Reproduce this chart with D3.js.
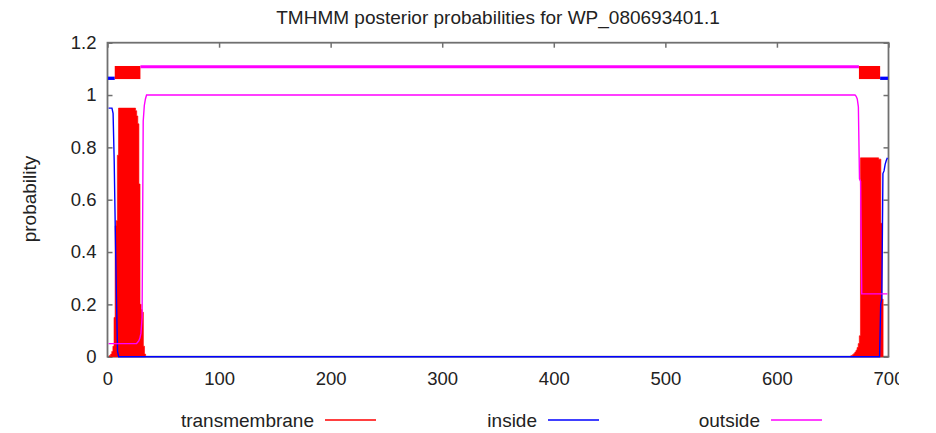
<!DOCTYPE html>
<html><head><meta charset="utf-8">
<script src="https://cdn.jsdelivr.net/npm/d3@7/dist/d3.min.js"></script>
<style>
body{margin:0;background:#fff}
text{font-family:"Liberation Sans",Arial,Helvetica,sans-serif;fill:#222}
</style>
</head><body>
<svg id="chart" width="936" height="433"></svg>
<script>
// ---------- data ----------
const chartTitle = "TMHMM posterior probabilities for WP_080693401.1";
const yAxisTitle = "probability";
const xTicks = [0, 100, 200, 300, 400, 500, 600, 700];
const xTickLabels = ["0", "100", "200", "300", "400", "500", "600", "700"];
const yTicks = [0, 0.2, 0.4, 0.6, 0.8, 1, 1.2];
const yTickLabels = ["0", "0.2", "0.4", "0.6", "0.8", "1", "1.2"];
const seriesNames = ["transmembrane", "inside", "outside"];

// transmembrane posterior probability (residues with non-zero value)
const tmResidues = [3,4,5,6,7,8,9,10,11,12,13,14,15,16,17,18,19,20,21,22,23,24,25,26,27,28,29,30,31,32,33,
  667,668,669,670,671,672,673,674,675,676,677,678,679,680,681,682,683,684,685,686,687,688,689,690,691,692,693,694];
const tmValues = [0.005,0.01,0.02,0.04,0.15,0.5,0.52,0.77,0.95,0.95,0.95,0.95,0.95,0.95,0.95,0.95,0.95,0.95,0.95,0.95,0.95,0.95,0.94,0.92,0.89,0.66,0.2,0.18,0.17,0.04,0.01,
  0.003,0.005,0.008,0.012,0.018,0.025,0.035,0.05,0.08,0.76,0.76,0.76,0.76,0.76,0.76,0.76,0.76,0.76,0.76,0.76,0.76,0.76,0.76,0.76,0.755,0.755,0.51,0.22];

// inside posterior probability (break points of the line)
const insideResidues = [1,4,5,6,7,8,9,10,692,693,694,695,696,697,698,699];
const insideValues   = [0.95,0.95,0.93,0.75,0.48,0.23,0.02,0,0,0.2,0.22,0.7,0.71,0.735,0.75,0.76];

// outside posterior probability (break points of the line)
const outsideResidues = [1,26,27,28,29,30,31,32,33,34,35,670,671,672,673,674,675,676,699];
const outsideValues   = [0.05,0.05,0.055,0.06,0.07,0.09,0.15,0.9,0.96,0.985,1.0,1.0,0.995,0.985,0.955,0.68,0.67,0.24,0.24];

// predicted topology
const topoType  = ["inside", "TMhelix", "outside", "TMhelix", "inside"];
const topoStart = [1, 7, 30, 674, 693];
const topoEnd   = [6, 29, 673, 692, 699];

// ---------- drawing ----------
const svg = d3.select("#chart");
const colors = {transmembrane: "#ff0000", inside: "#0000ff", outside: "#ff00ff"};
const plot = {left: 107.5, right: 888.5, top: 42.7, bottom: 356.7};

const x = d3.scaleLinear().domain([0, 700]).range([plot.left, plot.right]);
const y = d3.scaleLinear().domain([0, 1.2]).range([plot.bottom, plot.top]);

svg.append("defs").append("clipPath").attr("id", "labelClip")
  .append("rect").attr("x", 0).attr("y", 0).attr("width", 899).attr("height", 433);

// title
svg.append("text").attr("x", (plot.left + plot.right) / 2).attr("y", 24)
  .attr("text-anchor", "middle").style("font-size", "19px").text(chartTitle);

// y axis title
svg.append("text").attr("transform", "translate(36,199) rotate(-90)")
  .attr("text-anchor", "middle").style("font-size", "19px").text(yAxisTitle);

// axes with inward ticks
const axisColor = "#707070";
function styleAxis(g, showText) {
  g.select(".domain").remove();
  g.selectAll(".tick line").attr("stroke", axisColor).attr("stroke-width", 1.5);
  g.selectAll(".tick text").style("font-size", "18.5px").attr("fill", "#222");
  if (!showText) g.selectAll(".tick text").remove();
}
const gx = svg.append("g").attr("transform", `translate(0,${plot.bottom})`)
  .call(d3.axisBottom(x).tickValues(xTicks).tickFormat((d, i) => xTickLabels[i]).tickSize(-5).tickPadding(15));
styleAxis(gx, true);
gx.attr("clip-path", "url(#labelClip)");
const gy = svg.append("g").attr("transform", `translate(${plot.left},0)`)
  .call(d3.axisLeft(y).tickValues(yTicks).tickFormat((d, i) => yTickLabels[i]).tickSize(-5).tickPadding(11));
styleAxis(gy, true);
const gt = svg.append("g").attr("transform", `translate(0,${plot.top})`)
  .call(d3.axisTop(x).tickValues(xTicks).tickSize(-5));
styleAxis(gt, false);
const gr = svg.append("g").attr("transform", `translate(${plot.right},0)`)
  .call(d3.axisRight(y).tickValues(yTicks).tickSize(-5));
styleAxis(gr, false);

// border
svg.append("rect").attr("x", plot.left).attr("y", plot.top)
  .attr("width", plot.right - plot.left).attr("height", plot.bottom - plot.top)
  .attr("fill", "none").attr("stroke", axisColor).attr("stroke-width", 1.8);

const area = svg.append("g");

// transmembrane impulses: wide impulses, outlined as one envelope polygon per run
const tmData = tmResidues.map((r, i) => ({r, v: tmValues[i]}));
const impulseHalf = 1.3;
const runs = [];
tmData.forEach((d, i) => {
  if (i === 0 || d.r !== tmData[i - 1].r + 1) runs.push([]);
  runs[runs.length - 1].push(d);
});
runs.forEach(run => {
  const edges = [];
  run.forEach(d => { edges.push(x(d.r) - impulseHalf, x(d.r) + impulseHalf); });
  const xs = Array.from(new Set(edges)).sort((a, b) => a - b);
  const pts = [[xs[0], y(0)]];
  for (let k = 0; k < xs.length - 1; k++) {
    const mid = (xs[k] + xs[k + 1]) / 2;
    const vmax = d3.max(run.filter(d => Math.abs(x(d.r) - mid) <= impulseHalf), d => d.v) || 0;
    const last = pts[pts.length - 1];
    if (Math.abs(last[1] - y(vmax)) > 1e-6) { pts.push([xs[k], last[1]]); pts.push([xs[k], y(vmax)]); }
  }
  pts.push([xs[xs.length - 1], pts[pts.length - 1][1]]);
  pts.push([xs[xs.length - 1], y(0)]);
  area.append("polygon").attr("points", pts.map(p => p.join(",")).join(" "))
    .attr("fill", colors.transmembrane).attr("stroke", colors.transmembrane)
    .attr("stroke-width", 0.6).attr("stroke-linejoin", "miter");
});

const line = d3.line().x(d => x(d.r)).y(d => y(d.v));
const insideData = insideResidues.map((r, i) => ({r, v: insideValues[i]}));
const outsideData = outsideResidues.map((r, i) => ({r, v: outsideValues[i]}));
area.append("path").datum(insideData).attr("d", line)
  .attr("fill", "none").attr("stroke", colors.inside).attr("stroke-width", 1.4);
area.append("path").datum(outsideData).attr("d", line)
  .attr("fill", "none").attr("stroke", colors.outside).attr("stroke-width", 1.4);

// topology bar on top
const topo = topoType.map((t, i) => ({t, s: topoStart[i] - 0.5, e: topoEnd[i] + 0.5}));
topo.forEach(d => {
  if (d.t === "TMhelix") {
    area.append("rect").attr("x", x(d.s)).attr("width", x(d.e) - x(d.s))
      .attr("y", y(1.111)).attr("height", y(1.061) - y(1.111))
      .attr("fill", colors.transmembrane);
  } else if (d.t === "inside") {
    area.append("line").attr("x1", Math.max(plot.left, x(d.s))).attr("x2", Math.min(plot.right, x(d.e)))
      .attr("y1", y(1.064)).attr("y2", y(1.064))
      .attr("stroke", colors.inside).attr("stroke-width", 3.3);
  } else {
    area.append("line").attr("x1", x(d.s)).attr("x2", x(d.e))
      .attr("y1", y(1.108)).attr("y2", y(1.108))
      .attr("stroke", colors.outside).attr("stroke-width", 3.2);
  }
});

// legend
const legendY = 420;
seriesNames.forEach((name, i) => {
  const lx = 325 + i * 223;
  svg.append("text").attr("x", lx - 11).attr("y", legendY + 6.5)
    .attr("text-anchor", "end").style("font-size", "19px").text(name);
  svg.append("line").attr("x1", lx).attr("x2", lx + 51)
    .attr("y1", legendY).attr("y2", legendY)
    .attr("stroke", colors[name]).attr("stroke-width", 1.6);
});
</script>
</body></html>
